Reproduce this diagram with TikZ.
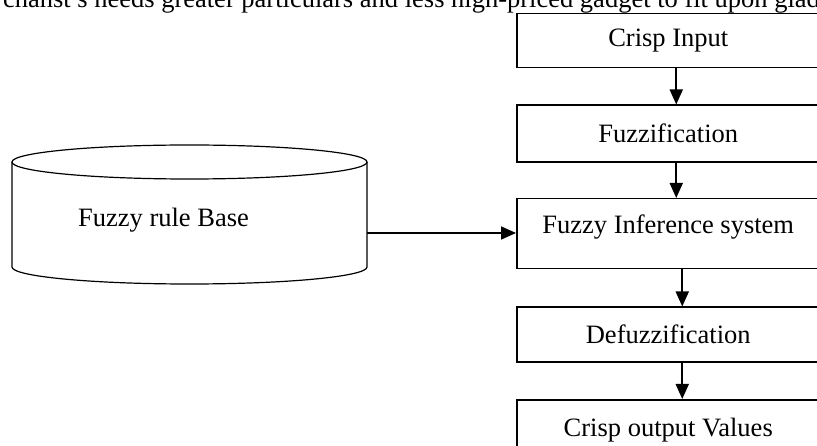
\documentclass[tikz,border=0pt]{standalone}
\usepackage{fontspec}
\setmainfont{Liberation Serif}
\usetikzlibrary{positioning,arrows.meta}

\begin{document}
\begin{tikzpicture}[x=1pt,y=-1pt]
    \tikzset{
      stage/.style = { draw, line width = 1.5pt, minimum width = 303pt, inner sep = 0pt, anchor = north west },
      flow/.style = { line width = 1.8pt, -{Triangle[length=15pt,width=13pt]} },
      drum/.style = { line width = 1.2pt },
    }
    \useasboundingbox (0,0) rectangle (817,446);
    \fontsize{26.5}{30}\selectfont

    \node[anchor=base west] (page text) at (-6,8) {chanst s needs greater particulars and less high-priced gadget to fit upon glad};

    \node[stage, minimum height=54pt] (crisp input) at (516,13) {Crisp Input};
    \node[stage, minimum height=57pt, below=36pt of crisp input] (fuzzification) {Fuzzification};
    \node[stage, minimum height=70pt, below=35pt of fuzzification,
        text height=18pt, text depth=18pt] (inference) {Fuzzy Inference system};
    \node[stage, minimum height=55pt, below=37pt of inference] (defuzzification) {Defuzzification};
    \node[stage, minimum height=60pt, below=36pt of defuzzification] (crisp output) {Crisp output Values};

    \draw[drum] (12,162) -- (12,267) arc[start angle=180, end angle=0, x radius=177.5, y radius=17] -- (367,162);
    \draw[drum] (189.5,162) ellipse[x radius=177.5, y radius=17];
    \node[anchor=base] (rule base) at (163.5,227) {Fuzzy rule Base};
    \coordinate (rule base out) at (367,233);

    \draw[flow] ([xshift=8pt]crisp input.south) -- ([xshift=8pt]fuzzification.north);
    \draw[flow] ([xshift=8pt]fuzzification.south) -- ([xshift=8pt]inference.north);
    \draw[flow] ([xshift=14pt]inference.south) -- ([xshift=14pt]defuzzification.north);
    \draw[flow] ([xshift=14pt]defuzzification.south) -- ([xshift=14pt]crisp output.north);
    \draw[flow] (rule base out) -- (rule base out -| inference.west);
\end{tikzpicture}
\end{document}
